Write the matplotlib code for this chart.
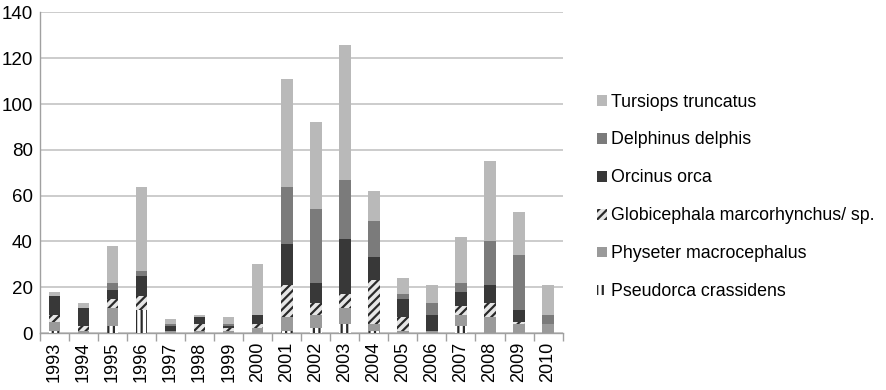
import matplotlib.pyplot as plt
import numpy as np

plt.rcParams['font.family'] = ['Liberation Sans', 'DejaVu Sans']
plt.rcParams['hatch.linewidth'] = 1.6

years = [str(y) for y in range(1993, 2011)]

# stranded individuals per species and year (stacked bottom -> top)
pseudorca = [1, 0, 3, 10, 0, 0, 0, 0, 1, 2, 4, 1, 0, 0, 3, 0, 0, 0]
physeter = [4, 1, 8, 0, 1, 1, 1, 2, 6, 6, 7, 3, 1, 1, 5, 7, 4, 4]
globicephala = [3, 2, 4, 6, 0, 3, 1, 2, 14, 5, 6, 19, 6, 0, 4, 6, 1, 0]
orcinus = [8, 8, 4, 9, 2, 3, 1, 4, 18, 9, 24, 10, 8, 7, 6, 8, 5, 0]
delphinus = [0, 0, 3, 2, 1, 0, 1, 0, 25, 32, 26, 16, 2, 5, 4, 19, 24, 4]
tursiops = [2, 2, 16, 37, 2, 1, 3, 22, 47, 38, 59, 13, 7, 8, 20, 35, 19, 13]

series = [
    ('Pseudorca crassidens', pseudorca, 'white', '|||', '#2a2a2a'),
    ('Physeter macrocephalus', physeter, '#9a9a9a', '', None),
    ('Globicephala marcorhynchus/ sp.', globicephala, '#e6e6e6', '////', '#2a2a2a'),
    ('Orcinus orca', orcinus, '#383838', '', None),
    ('Delphinus delphis', delphinus, '#7b7b7b', '', None),
    ('Tursiops truncatus', tursiops, '#b9b9b9', '', None),
]

fig = plt.figure(figsize=(8.86, 3.9), dpi=100)
ax = fig.add_axes([0.045, 0.146, 0.59, 0.822])

x = np.arange(len(years))
bottom = np.zeros(len(years))
handles = []
for name, vals, color, hatch, hcolor in series:
    vals = np.array(vals)
    b = ax.bar(x, vals, 0.4, bottom=bottom, color=color, hatch=hatch,
               edgecolor=hcolor if hcolor else color, linewidth=0, label=name,
               zorder=3)
    handles.append(b)
    bottom += vals

ax.set_xlim(-0.5, len(years) - 0.5)
ax.set_ylim(0, 140)
ax.set_yticks(range(0, 141, 20))
ax.yaxis.grid(True, color='#c8c8c8', linewidth=1.3, zorder=0)
ax.set_axisbelow(True)

ax.set_xticks(x)
ax.set_xticklabels(years, rotation=90, fontsize=13)
ax.tick_params(axis='x', length=0, pad=6)
ax.set_xticks(np.arange(-0.5, len(years)), minor=True)
ax.tick_params(axis='x', which='minor', length=6, color='#a0a0a0', width=1)
ax.tick_params(axis='y', length=0, labelsize=13.5, pad=5)

for s in ['top', 'right']:
    ax.spines[s].set_visible(False)
ax.spines['left'].set_color('#a0a0a0')
ax.spines['bottom'].set_color('#a0a0a0')
ax.spines['left'].set_linewidth(1)
ax.spines['bottom'].set_linewidth(1)

leg = fig.legend(handles[::-1], [s[0] for s in series][::-1],
                 loc='center left', bbox_to_anchor=(0.66, 0.495),
                 frameon=False, fontsize=12.8, handlelength=0.55, handleheight=0.55,
                 handletextpad=0.25, labelspacing=1.18, borderpad=0.2)

fig.savefig('out.png', dpi=100)
